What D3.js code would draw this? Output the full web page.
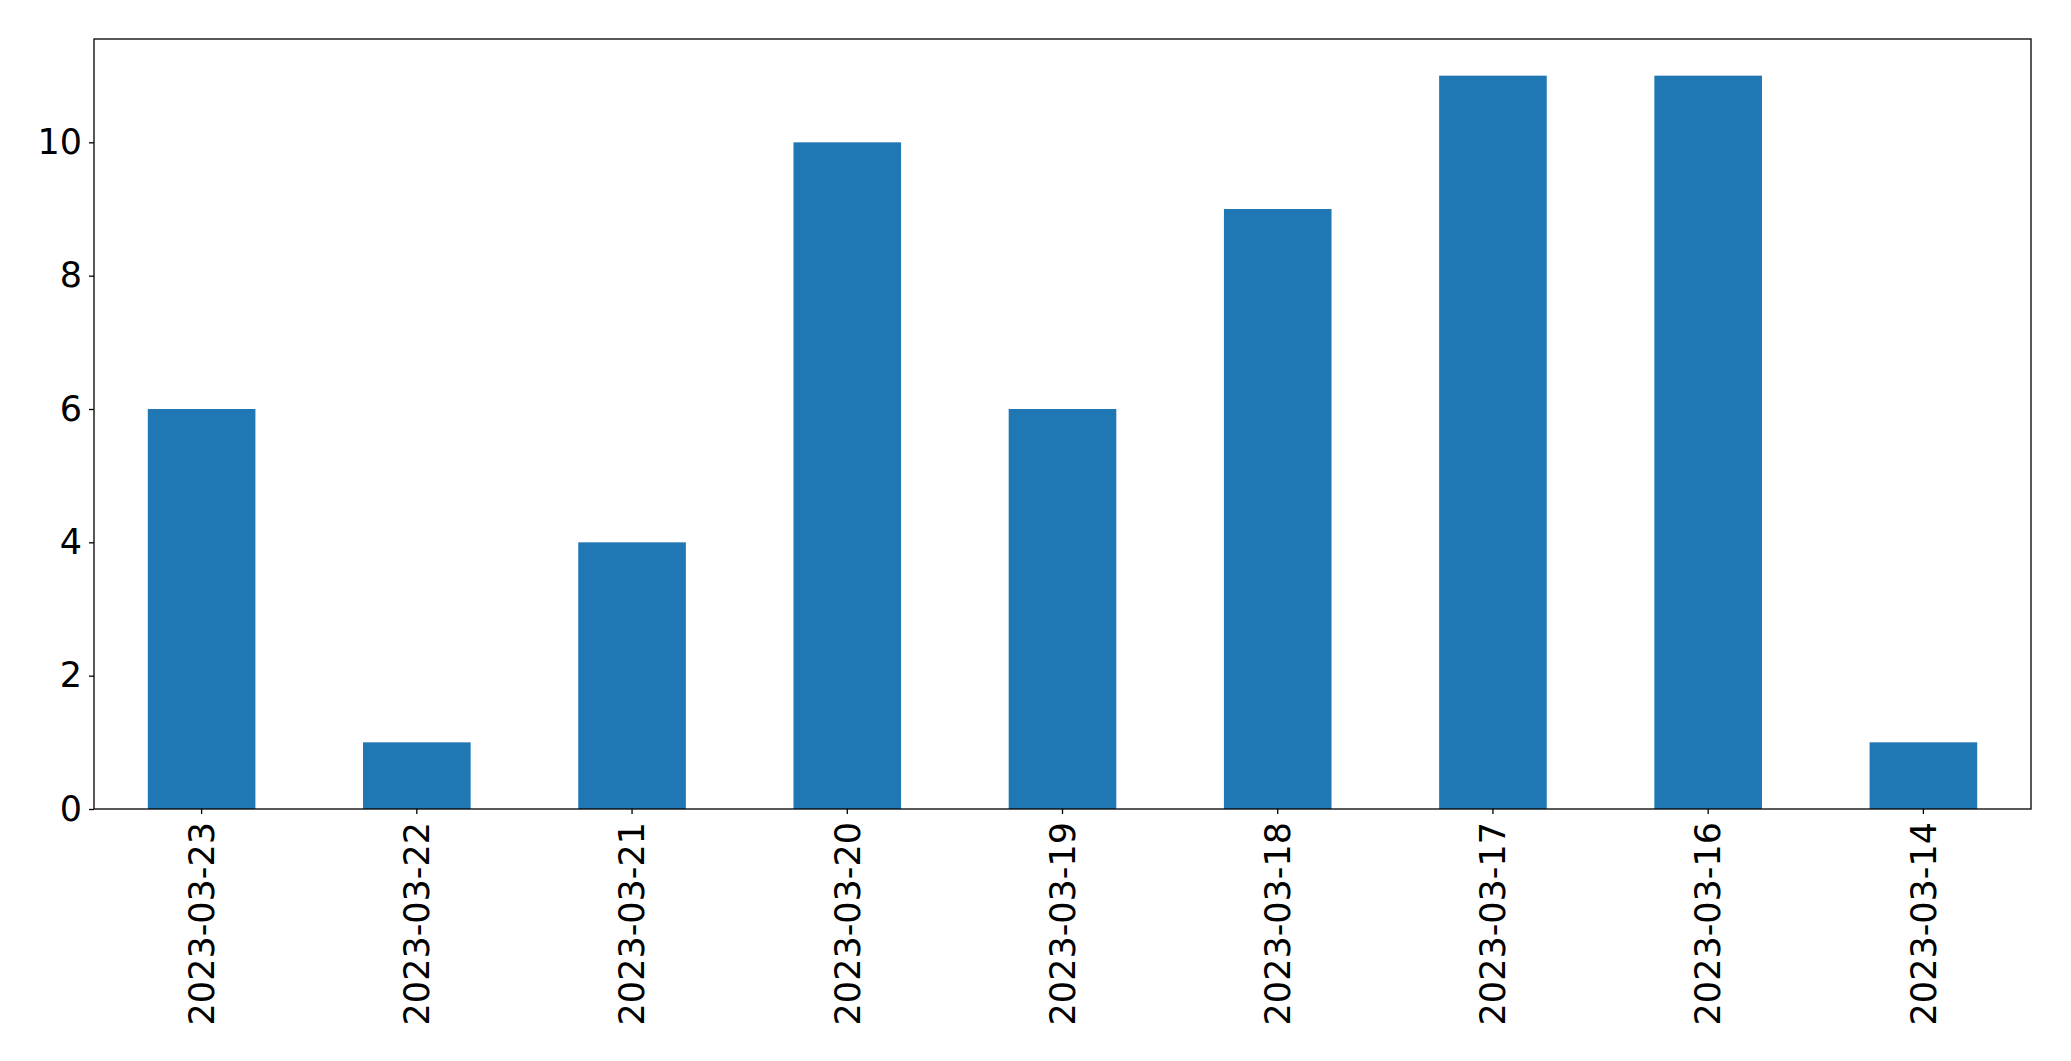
<!DOCTYPE html>
<html>
<head>
<meta charset="utf-8">
<script src="https://cdn.jsdelivr.net/npm/d3@7"></script>
<style>
  html, body { margin: 0; padding: 0; background: #fff; }
  svg { display: block; font-family: "DejaVu Sans", sans-serif; }
</style>
</head>
<body>
<svg id="chart" width="2071" height="1061"></svg>
<script>
const categories = ["2023-03-23","2023-03-22","2023-03-21","2023-03-20","2023-03-19","2023-03-18","2023-03-17","2023-03-16","2023-03-14"];
const values = [6, 1, 4, 10, 6, 9, 11, 11, 1];
const yTicks = [0, 2, 4, 6, 8, 10];

const margin = {left: 94, top: 39, right: 2071 - 2031, bottom: 1061 - 809};
const W = 2071, H = 1061;
const svg = d3.select("#chart");
const iw = W - margin.left - margin.right;
const ih = H - margin.top - margin.bottom;
const g = svg.append("g").attr("transform", `translate(${margin.left},${margin.top})`);

const x = d3.scaleBand().domain(categories).range([0, iw]).paddingInner(0.5).paddingOuter(0.25);
const yMax = d3.max(values) * 1.05;
const y = d3.scaleLinear().domain([0, yMax]).range([ih, 0]);

g.selectAll("rect.bar").data(values).enter().append("rect")
  .attr("class", "bar")
  .attr("x", (d, i) => x(categories[i]))
  .attr("width", x.bandwidth())
  .attr("y", d => y(d))
  .attr("height", d => ih - y(d))
  .attr("fill", "#1f77b4");

const fs = 35;
const yAxis = g.append("g").call(d3.axisLeft(y).tickValues(yTicks).tickSize(5).tickPadding(7).tickFormat(d3.format("d")));
yAxis.select(".domain").remove();
yAxis.selectAll("text").attr("font-size", fs).attr("fill", "#000").attr("font-family", "DejaVu Sans, sans-serif");
yAxis.selectAll("line").attr("stroke", "#000").attr("stroke-width", 1.3);

const xAxis = g.append("g").attr("transform", `translate(0,${ih})`)
  .call(d3.axisBottom(x).tickSize(5).tickPadding(0));
xAxis.select(".domain").remove();
xAxis.selectAll("line").attr("stroke", "#000").attr("stroke-width", 1.3);
xAxis.selectAll("text")
  .attr("font-size", fs).attr("fill", "#000").attr("font-family", "DejaVu Sans, sans-serif")
  .attr("transform", "translate(0,13) rotate(-90)")
  .attr("text-anchor", "end")
  .attr("dy", "0.35em")
  .attr("x", 0).attr("y", 0);

g.append("rect").attr("x", 0).attr("y", 0).attr("width", iw).attr("height", ih)
  .attr("fill", "none").attr("stroke", "#000").attr("stroke-width", 1.3);
</script>
</body>
</html>
